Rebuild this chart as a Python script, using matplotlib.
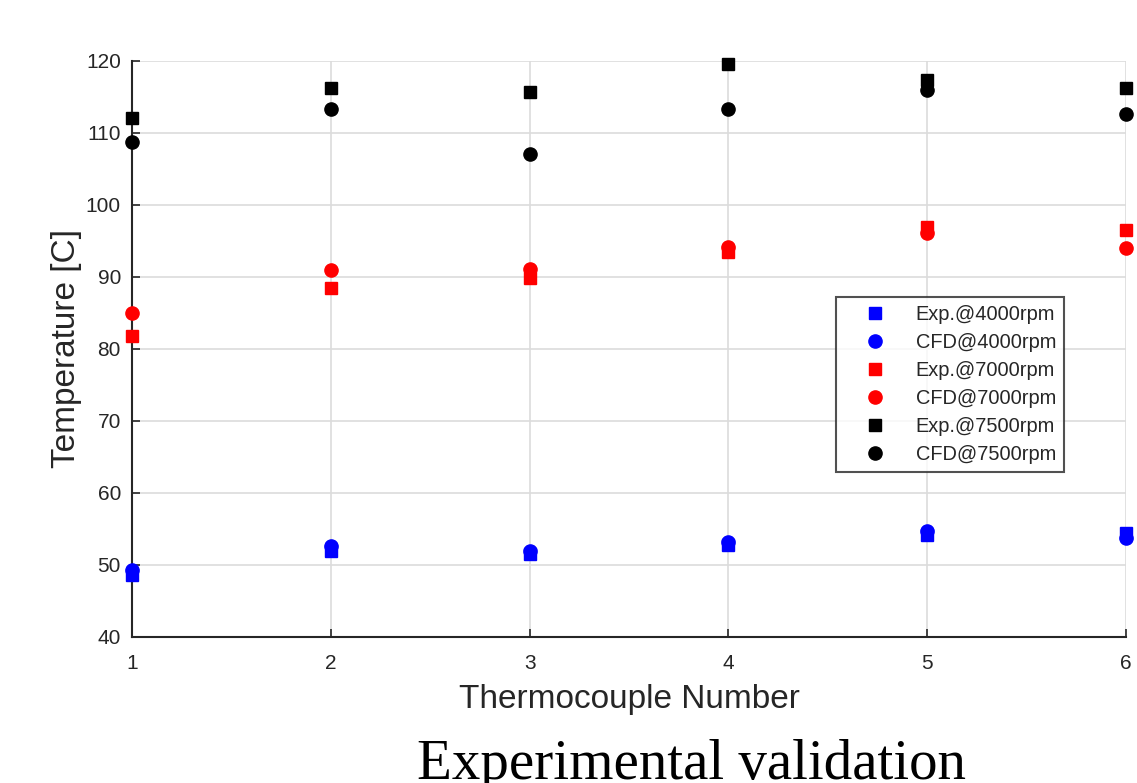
import matplotlib
matplotlib.use("Agg")
import matplotlib.pyplot as plt

plt.rcParams["font.family"] = ["Liberation Sans", "DejaVu Sans"]

# data
tc = [1, 2, 3, 4, 5, 6]
exp_4000 = [48.6, 52.0, 51.5, 52.8, 54.2, 54.4]
cfd_4000 = [49.3, 52.6, 51.9, 53.2, 54.7, 53.8]
exp_7000 = [81.8, 88.5, 89.9, 93.5, 97.0, 96.5]
cfd_7000 = [85.0, 91.0, 91.1, 94.1, 96.1, 94.0]
exp_7500 = [112.1, 116.3, 115.7, 119.6, 117.4, 116.3]
cfd_7500 = [108.8, 113.3, 107.1, 113.4, 116.0, 112.7]

series = [
    (exp_4000, "s", "blue", "Exp.@4000rpm"),
    (cfd_4000, "o", "blue", "CFD@4000rpm"),
    (exp_7000, "s", "red", "Exp.@7000rpm"),
    (cfd_7000, "o", "red", "CFD@7000rpm"),
    (exp_7500, "s", "black", "Exp.@7500rpm"),
    (cfd_7500, "o", "black", "CFD@7500rpm"),
]

fig = plt.figure(figsize=(11.37, 7.83), dpi=100)
ax = fig.add_axes([0.1161, 0.1865, 0.8742, 0.7356])

for vals, mk, col, lab in series:
    ax.plot(tc, vals, linestyle="none", marker=mk, color=col,
            markersize=9 if mk == "s" else 9.5, label=lab, clip_on=False, zorder=3)

ax.set_xlim(1, 6)
ax.set_ylim(40, 120)
ax.set_xticks(tc)
ax.set_yticks(range(40, 121, 10))
ax.grid(True, color="#dcdcdc", linewidth=1.2)
ax.set_axisbelow(True)

for s in ["top", "right"]:
    ax.spines[s].set_visible(False)
for s in ["left", "bottom"]:
    ax.spines[s].set_color("#262626")
    ax.spines[s].set_linewidth(1.5)

ax.tick_params(axis="both", direction="in", length=6, width=1.2, colors="#262626",
               labelsize=15)
ax.tick_params(axis="x", pad=12)
ax.tick_params(axis="y", pad=8)

ax.set_xlabel("Thermocouple Number", fontsize=24, color="#262626", labelpad=8)
ax.set_ylabel("Temperature [C]", fontsize=24, color="#262626", labelpad=3)

leg = ax.legend(loc="upper left", bbox_to_anchor=(0.735, 0.6207),
                bbox_transform=fig.transFigure, fontsize=14.4, frameon=True,
                fancybox=False, edgecolor="#262626", borderpad=0.4,
                handlelength=3.1, handletextpad=0.5, labelspacing=0.45,
                borderaxespad=0)
leg.get_frame().set_linewidth(1.5)
for t in leg.get_texts():
    t.set_color("#262626")

# caption under the chart, cut by the bottom edge as in the reference
fig.text(0.608, 0.005, "Experimental validation", ha="center", va="baseline",
         fontsize=41, family=["Liberation Serif", "DejaVu Serif"])

fig.savefig("out.png", dpi=100)
